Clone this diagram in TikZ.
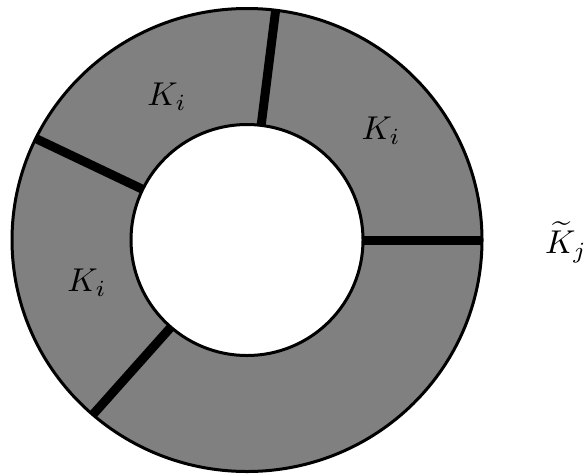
\documentclass[tikz,border=0pt]{standalone}
\usetikzlibrary{calc}
\begin{document}
\begin{tikzpicture}[x=1pt,y=-1pt,
  ringfill/.style={fill=black!50, even odd rule},
  rim/.style={draw=black, line width=3pt},
  sep/.style={draw=black, line width=9pt, line cap=butt},
  lab/.style={font=\normalsize, scale=3.3, transform shape, inner sep=0pt}]
\useasboundingbox (0,0) rectangle (585,474);
\coordinate (c) at (247,240);
% annulus
\fill[ringfill] (c) ellipse [x radius=235pt, y radius=231.5pt]
                (c) ellipse [x radius=116pt, y radius=115.5pt];
% separators
\foreach \a/\n in {83/a,0/b,154/c,229/d}{
  \coordinate (in\n) at ($(c)+({116*cos(\a)},{-115.5*sin(\a)})$);
  \coordinate (out\n) at ($(c)+({235*cos(\a)},{-231.5*sin(\a)})$);
  \draw[sep] (in\n) -- (out\n);
}
\draw[rim] (c) ellipse [x radius=235pt, y radius=231.5pt];
\draw[rim] (c) ellipse [x radius=116pt, y radius=115.5pt];
% labels
\node[lab] (k1) at (167,97) {$K_i$};
\node[lab] (k2) at (381,131) {$K_i$};
\node[lab] (k3) at (87,283) {$K_i$};
\node[lab] (kj) at (566,242) {$\widetilde{K}_j$};
\end{tikzpicture}
\end{document}
